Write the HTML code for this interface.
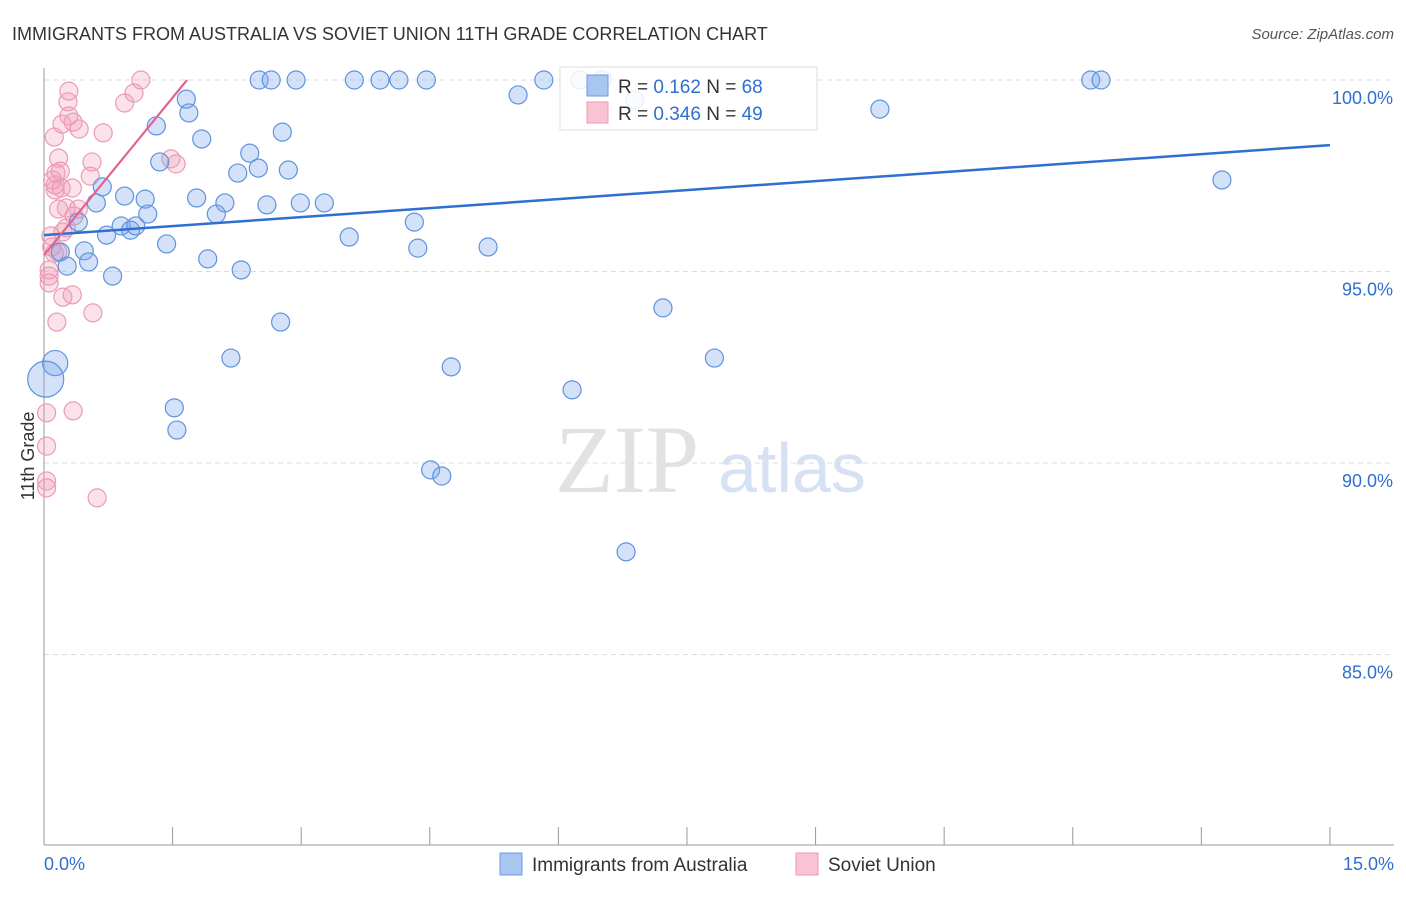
<!DOCTYPE html>
<html><head><meta charset="utf-8"><style>
body{margin:0;background:#fff;font-family:"Liberation Sans",sans-serif}
svg text{font-family:"Liberation Sans",sans-serif}
</style></head><body>
<svg id="c" width="1406" height="892">
<text x="12" y="40" font-size="18" fill="#333">IMMIGRANTS FROM AUSTRALIA VS SOVIET UNION 11TH GRADE CORRELATION CHART</text>
<text x="1394" y="39" font-size="15" fill="#555" font-style="italic" text-anchor="end">Source: ZipAtlas.com</text>
<text x="555" y="492" font-size="96" fill="#e2e2e2" font-family="Liberation Serif" style="font-family:'Liberation Serif',serif">ZIP</text>
<text x="718" y="492" font-size="70" fill="#d6e2f4">atlas</text>
<g id="grid"></g><g id="axes"></g><g id="pts"></g><g id="lines"></g>
<text transform="translate(34,456) rotate(-90)" font-size="18" fill="#333" text-anchor="middle">11th Grade</text>
<g>
<rect x="560" y="67" width="257" height="63" fill="#fff" fill-opacity="0.85" stroke="#ddd"/>
<rect x="587" y="75" width="21" height="21" fill="#a9c6f0" stroke="#6b9be0"/>
<rect x="587" y="102" width="21" height="21" fill="#f8c3d2" stroke="#ee9ab4"/>
<text x="618" y="93" font-size="19" fill="#333">R = <tspan fill="#2f6fd0"> 0.162</tspan>   N = <tspan fill="#2f6fd0">68</tspan></text>
<text x="618" y="120" font-size="19" fill="#333">R = <tspan fill="#2f6fd0">0.346</tspan>   N = <tspan fill="#2f6fd0">49</tspan></text>
</g>
<g>
<rect x="500" y="853" width="22" height="22" fill="#a9c6f0" stroke="#6b9be0"/>
<text x="532" y="871" font-size="19" fill="#333">Immigrants from Australia</text>
<rect x="796" y="853" width="22" height="22" fill="#f8c3d2" stroke="#ee9ab4"/>
<text x="828" y="871" font-size="19" fill="#333">Soviet Union</text>
</g>
</svg>
<script>
const yTicks=[100,95,90,85];
const yTickLabels=["100.0%","95.0%","90.0%","85.0%"];
const xTicks=[0,1.5,3,4.5,6,7.5,9,10.5,12,13.5,15];
const xEndLabels=["0.0%","15.0%"];
const blueX=[2.51,2.65,2.94,3.62,3.92,4.14,4.46,5.83,6.25,6.51,12.21,12.33,1.66,1.69,1.31,1.84,2.78,5.53,9.75,2.40,1.35,2.26,2.50,2.85,0.68,0.94,1.18,1.78,2.11,0.61,2.01,1.21,2.60,2.99,3.27,13.74,4.32,0.40,0.90,1.01,1.07,0.73,3.56,1.43,4.36,5.18,0.47,0.19,0.27,0.52,1.91,2.30,0.80,7.22,2.76,0.13,0.02,2.18,7.82,4.75,6.16,1.52,1.55,4.51,4.64,6.79,6.89];
const blueY=[100,100,100,100,100,100,100,100,100,100,100,100,99.50,99.14,98.80,98.46,98.64,99.61,99.24,98.09,97.86,97.57,97.70,97.65,97.21,96.97,96.89,96.92,96.79,96.79,96.50,96.50,96.74,96.79,96.79,97.39,96.29,96.29,96.19,96.08,96.19,95.95,95.90,95.72,95.61,95.64,95.54,95.51,95.14,95.25,95.33,95.04,94.88,94.05,93.68,92.61,92.19,92.74,92.74,92.51,91.91,91.44,90.86,89.82,89.66,87.68,99.48];
const blueSize=blueX.map((v,i)=>i===56?2:(i===55?1.4:1));
const pinkX=[1.13,1.05,0.94,0.29,0.28,0.29,0.21,0.34,0.41,0.69,0.12,0.17,0.56,1.48,1.54,0.19,0.14,0.54,0.10,0.13,0.20,0.33,0.13,0.17,0.26,0.40,0.35,0.08,0.22,0.26,0.09,0.16,0.12,0.06,0.06,0.06,0.22,0.33,0.57,0.15,0.34,0.03,0.03,0.03,0.03,0.62];
const pinkY=[100,99.66,99.40,99.71,99.43,99.06,98.85,98.90,98.72,98.62,98.51,97.96,97.86,97.94,97.81,97.62,97.57,97.49,97.39,97.26,97.18,97.18,97.13,96.63,96.66,96.63,96.45,95.93,96.03,96.14,95.64,95.51,95.48,95.04,94.88,94.70,94.33,94.39,93.92,93.68,91.36,91.31,90.44,89.53,89.35,89.09];
const blueTrend=[95.95,98.30];
const pinkTrend=[95.43,100,1.668];
const NS="http://www.w3.org/2000/svg";
const sx=v=>44+v*85.73, sy=v=>80+(100-v)*38.3;
function mk(t,a,p){const e=document.createElementNS(NS,t);for(const k in a)e.setAttribute(k,a[k]);p.appendChild(e);return e;}
const grid=document.getElementById('grid'),axes=document.getElementById('axes'),pts=document.getElementById('pts'),lines=document.getElementById('lines');
yTicks.forEach((t,i)=>{const g=mk('line',{x1:44,x2:1394,y1:sy(t),y2:sy(t),stroke:'#ddd','stroke-dasharray':'5,4'},grid);


const l=mk('text',{x:1393,y:sy(t)+24,'font-size':18,fill:'#2f6fd0','text-anchor':'end'},axes);l.textContent=yTickLabels[i];

});
const ya=mk('line',{x1:44,x2:44,y1:68,y2:845,stroke:'#999'},axes);


const xa=mk('line',{x1:44,x2:1394,y1:845,y2:845,stroke:'#999'},axes);


xTicks.forEach(t=>{const k=mk('line',{x1:sx(t),x2:sx(t),y1:827,y2:845,stroke:'#999'},axes);

});
[[0,'start',44],[15,'end',1394]].forEach((d,i)=>{const l=mk('text',{x:d[2],y:870,'font-size':18,fill:'#2f6fd0','text-anchor':d[1]},axes);l.textContent=xEndLabels[i];

});
pinkX.forEach((x,i)=>{const c=mk('circle',{cx:sx(x),cy:sy(pinkY[i]),r:9,fill:'rgba(242,150,178,0.28)',stroke:'#eb9bb4','stroke-width':1.2},pts);

});
blueX.forEach((x,i)=>{const c=mk('circle',{cx:sx(x),cy:sy(blueY[i]),r:9*blueSize[i],fill:'rgba(120,165,235,0.32)',stroke:'#5f93dd','stroke-width':1.2},pts);

});
const bl=mk('line',{x1:sx(0),y1:sy(blueTrend[0]),x2:sx(15),y2:sy(blueTrend[1]),stroke:'#2f6fd0','stroke-width':2.5},lines);


const pl=mk('line',{x1:sx(0),y1:sy(pinkTrend[0]),x2:sx(pinkTrend[2]),y2:sy(pinkTrend[1]),stroke:'#e2648e','stroke-width':2.2},lines);


</script>
</body></html>
